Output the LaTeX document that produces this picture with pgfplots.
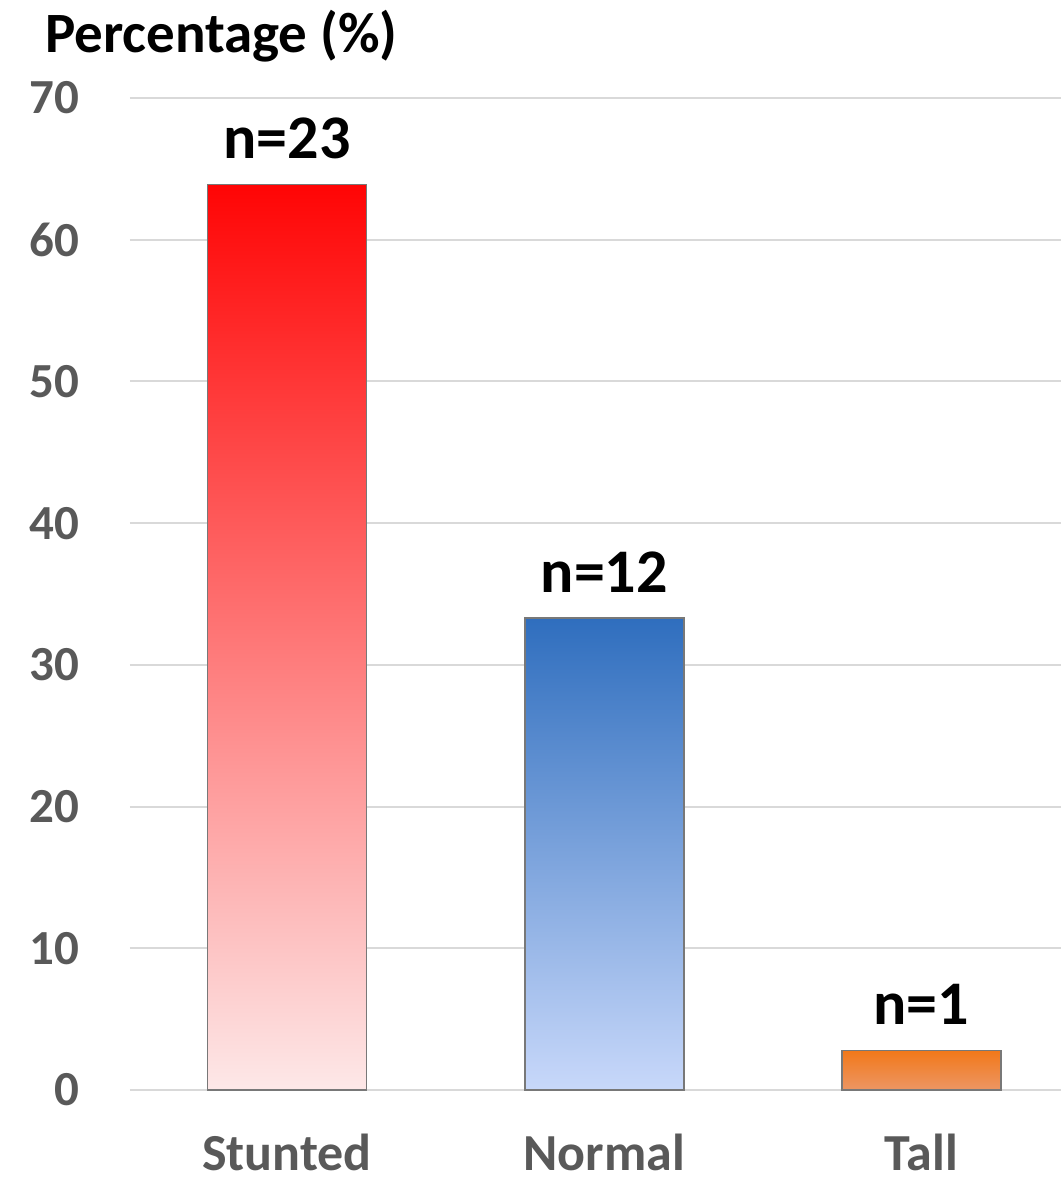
\documentclass[border=0pt]{standalone}
\usepackage{pgfplots}
\pgfplotsset{compat=1.18}
\usepackage{fontspec}
\setmainfont{Carlito}
\definecolor{tickgray}{RGB}{89,89,89}
\definecolor{gridgray}{RGB}{217,217,217}
\definecolor{edgegray}{RGB}{120,120,120}
\begin{document}
\begin{tikzpicture}
\begin{axis}[
  name=ax,
  at={(0,0)}, anchor=south west,
  scale only axis,
  width=465.5pt, height=496pt,
  xmin=-0.495, xmax=2.44,
  ymin=0, ymax=70,
  ytick={0,10,...,70},
  xtick={0,1,2},
  xticklabels={Stunted,Normal,Tall},
  /pgf/number format/assume math mode=true,
  axis x line*=bottom,
  axis y line*=left,
  y axis line style={draw=none},
  x axis line style={draw=gridgray, line width=1.2pt},
  xtick style={draw=none},
  ytick style={draw=none},
  ymajorgrids,
  grid style={draw=gridgray, line width=1pt},
  yticklabel style={font=\fontsize{24.5}{24.5}\selectfont\bfseries, text=tickgray, anchor=east, xshift=-22pt},
  xticklabel style={font=\fontsize{26}{26}\selectfont\bfseries, text=tickgray, anchor=north, inner sep=0pt, yshift=-22pt},
  clip=false,
  point meta=explicit symbolic,
  nodes near coords,
  every node near coord/.append style={font=\fontsize{31}{31}\selectfont\bfseries, text=black, anchor=south, yshift=9pt},
]
\addplot[ybar, bar shift=0pt, bar width=79.5pt, draw=edgegray, line width=0.8pt,
  top color={rgb,255:red,255;green,5;blue,5}, bottom color={rgb,255:red,253;green,232;blue,232}]
  coordinates {(0,63.9) [n=23]};
\addplot[ybar, bar shift=0pt, bar width=79.5pt, draw=edgegray, line width=0.8pt,
  top color={rgb,255:red,47;green,110;blue,190}, bottom color={rgb,255:red,200;green,216;blue,250}]
  coordinates {(1,33.3) [n=12]};
\addplot[ybar, bar shift=0pt, bar width=79.5pt, draw=edgegray, line width=0.8pt,
  top color={rgb,255:red,242;green,120;blue,25}, bottom color={rgb,255:red,236;green,150;blue,100}]
  coordinates {(2,2.8) [n=1]};
\end{axis}
\node[anchor=west, font=\fontsize{28.5}{28.5}\selectfont\bfseries, text=black] at ([xshift=-46pt, yshift=31pt]ax.north west) {Percentage (\%)};
\pgfresetboundingbox
\path[use as bounding box] ([xshift=-65pt, yshift=-47pt]ax.south west) rectangle ([xshift=465.5pt, yshift=545pt]ax.south west);
\end{tikzpicture}
\end{document}
